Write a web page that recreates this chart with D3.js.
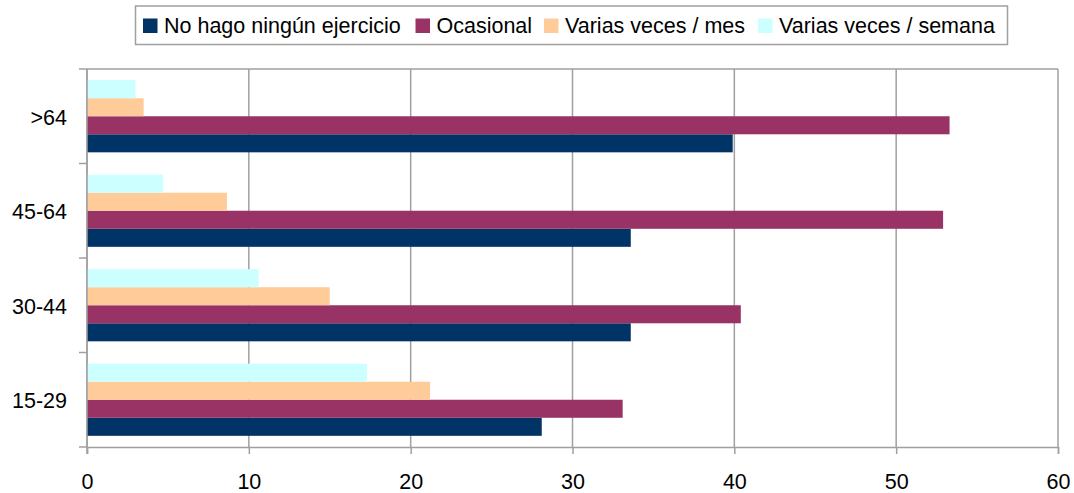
<!DOCTYPE html>
<html>
<head>
<meta charset="utf-8">
<script src="https://cdn.jsdelivr.net/npm/d3@7"></script>
<style>
body { margin: 0; background: #fff; }
text { font-family: "Liberation Sans", Arial, sans-serif; fill: #000; }
</style>
</head>
<body>
<div id="chart-area"></div>
<script>
// age groups, top to bottom as drawn
var categories = [">64", "45-64", "30-44", "15-29"];
var seriesNames = ["No hago ningún ejercicio", "Ocasional", "Varias veces / mes", "Varias veces / semana"];
var noHago = [39.9, 33.6, 33.6, 28.1];
var ocasional = [53.3, 52.9, 40.4, 33.1];
var variasMes = [3.5, 8.65, 15.0, 21.2];
var variasSemana = [3.0, 4.7, 10.6, 17.3];
var xTicks = [0, 10, 20, 30, 40, 50, 60];
var colors = ["#003366", "#993366", "#ffcc99", "#ccffff"];

var seriesValues = [noHago, ocasional, variasMes, variasSemana];

var svg = d3.select("#chart-area").append("svg")
	.attr("width", 1074)
	.attr("height", 493);

var plotLeft = 87, plotRight = 1058, plotTop = 69, plotBottom = 447;

var x = d3.scaleLinear()
	.domain([0, 60])
	.range([plotLeft, plotRight]);

var y = d3.scaleBand()
	.domain(categories)
	.range([plotTop, plotBottom]);

// inside each band the last series sits on top
var inner = d3.scaleBand()
	.domain([3, 2, 1, 0])
	.range([0, y.bandwidth()])
	.paddingOuter(0.62)
	.paddingInner(0);

// vertical gridlines
svg.append("g")
	.selectAll("line")
	.data(xTicks)
	.enter()
	.append("line")
	.attr("x1", d => x(d))
	.attr("x2", d => x(d))
	.attr("y1", plotTop)
	.attr("y2", plotBottom)
	.attr("stroke", "#a0a0a0")
	.attr("stroke-width", 1.5);

// top border
svg.append("line")
	.attr("x1", plotLeft).attr("x2", plotRight)
	.attr("y1", plotTop).attr("y2", plotTop)
	.attr("stroke", "#a0a0a0")
	.attr("stroke-width", 1.5);

// bars
for (let s = 0; s < seriesValues.length; s++)
{
	svg.append("g")
		.selectAll("rect")
		.data(seriesValues[s])
		.enter()
		.append("rect")
		.attr("x", x(0))
		.attr("y", (d, i) => y(categories[i]) + inner(s))
		.attr("width", d => x(d) - x(0))
		.attr("height", inner.bandwidth())
		.attr("fill", colors[s]);
}

// bottom axis
var xAxis = svg.append("g")
	.attr("transform", "translate(0," + plotBottom + ")")
	.call(d3.axisBottom(x).tickValues(xTicks).tickSize(7));
xAxis.select(".domain").attr("stroke", "#a0a0a0").attr("stroke-width", 1.5);
xAxis.selectAll(".tick line").attr("stroke", "#a0a0a0").attr("stroke-width", 1.5);
xAxis.selectAll("text")
	.attr("y", 41.5)
	.attr("dy", null)
	.style("font-family", "'Liberation Sans', Arial, sans-serif")
	.style("font-size", "21.5px")
	.attr("fill", "#000");

// left axis: ticks at band boundaries
var yAxisG = svg.append("g");
yAxisG.append("line")
	.attr("x1", plotLeft).attr("x2", plotLeft)
	.attr("y1", plotTop).attr("y2", plotBottom + 7)
	.attr("stroke", "#a0a0a0")
	.attr("stroke-width", 1.5);
var bounds = categories.map(c => y(c)).concat([plotBottom]);
yAxisG.selectAll(".bt")
	.data(bounds)
	.enter()
	.append("line")
	.attr("x1", plotLeft - 8)
	.attr("x2", plotLeft)
	.attr("y1", d => d)
	.attr("y2", d => d)
	.attr("stroke", "#a0a0a0")
	.attr("stroke-width", 1.5);
yAxisG.selectAll("text")
	.data(categories)
	.enter()
	.append("text")
	.attr("x", 67)
	.attr("y", d => y(d) + y.bandwidth() / 2 + 8.5)
	.attr("text-anchor", "end")
	.style("font-size", "21.5px")
	.text(d => d);

// legend
var legend = svg.append("g");
legend.append("rect")
	.attr("x", 135.5).attr("y", 6)
	.attr("width", 872).attr("height", 38.5)
	.attr("fill", "#fff")
	.attr("stroke", "#a0a0a0")
	.attr("stroke-width", 1.5);

var legendX = [143, 415.5, 544, 758];
for (let s = 0; s < seriesNames.length; s++)
{
	legend.append("rect")
		.attr("x", legendX[s])
		.attr("y", 18.5)
		.attr("width", 14.5)
		.attr("height", 14.5)
		.attr("fill", colors[s]);
	legend.append("text")
		.attr("x", legendX[s] + 21)
		.attr("y", 33)
		.style("font-size", "21.5px")
		.text(seriesNames[s]);
}
</script>
</body>
</html>
